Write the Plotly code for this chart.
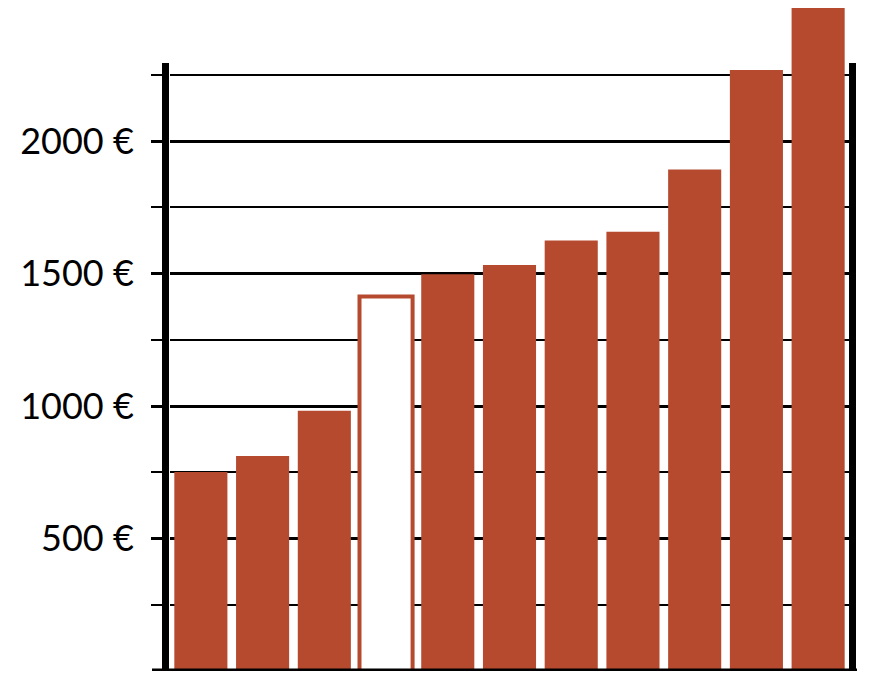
import plotly.graph_objects as go

categories = ["1", "2", "3", "4", "5", "6", "7", "8", "9", "10", "11"]
values = [751, 811, 982, 1413, 1497, 1532, 1625, 1658, 1893, 2268, 2506]
hollow_index = 3
major_ticks = [500, 1000, 1500, 2000]
major_labels = ["500 €", "1000 €", "1500 €", "2000 €"]
minor_ticks = [250, 750, 1250, 1750, 2250]
axis_top = 2294

RED = "#B54A2F"
fill_colors = ["white" if i == hollow_index else RED for i in range(len(values))]
line_widths = [4 if i == hollow_index else 0 for i in range(len(values))]

fig = go.Figure(go.Bar(
    x=categories, y=values,
    marker=dict(color=fill_colors, line=dict(color=RED, width=line_widths)),
    width=[0.86] * len(values),
    cliponaxis=False,
))

# page body has an 8px margin, so the figure is sized to the visible area
W, H = 864, 681
ml, mr, mt, mb = 162, 23, 0, 18
pw = W - ml - mr

fig.update_layout(
    width=W, height=H,
    margin=dict(l=ml, r=mr, t=mt, b=mb),
    plot_bgcolor="white", paper_bgcolor="white",
    showlegend=False,
    font=dict(family="Lato", size=36, color="black"),
    xaxis=dict(showticklabels=False, showgrid=False, zeroline=False,
               showline=False, ticks="", range=[-0.5, 10.5]),
    yaxis=dict(
        range=[0, 2502], tickmode="array", tickvals=major_ticks, ticktext=major_labels,
        showgrid=True, gridcolor="black", gridwidth=3,
        ticks="outside", ticklen=18, tickwidth=3, tickcolor="black",
        ticklabelstandoff=10,
        zeroline=False, showline=False,
        minor=dict(tickmode="array", tickvals=minor_ticks, showgrid=True,
                   gridcolor="black", gridwidth=1.5, ticks="outside",
                   ticklen=18, tickwidth=1.5, tickcolor="black"),
    ),
    shapes=[
        dict(type="line", xref="paper", yref="y", x0=-4.5 / pw, x1=-4.5 / pw,
             y0=0, y1=axis_top, line=dict(color="black", width=7), layer="above"),
        dict(type="line", xref="paper", yref="y", x0=1 + 3.5 / pw, x1=1 + 3.5 / pw,
             y0=0, y1=axis_top, line=dict(color="black", width=7), layer="above"),
        dict(type="line", xref="paper", yref="y", x0=-18 / pw, x1=1 + 8 / pw,
             y0=0, y1=0, line=dict(color="black", width=5), layer="above"),
    ],
)

fig.write_html("out.html")
